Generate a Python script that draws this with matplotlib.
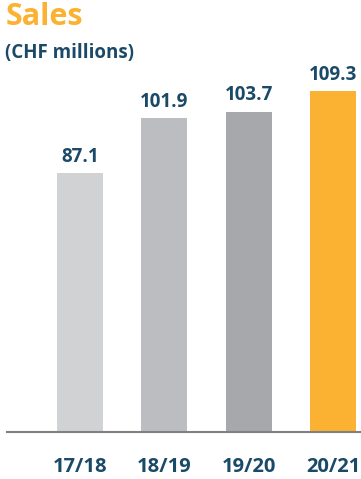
import matplotlib
matplotlib.use("Agg")
import matplotlib.pyplot as plt

years = ['17/18', '18/19', '19/20', '20/21']
sales = [87.1, 101.9, 103.7, 109.3]
bar_colors = ['#d1d2d4', '#bcbdc0', '#a7a8ab', '#fbb232']

TEXT = '#1b4a68'
ORANGE = '#fbb232'

plt.rcParams['font.family'] = ['Open Sans', 'DejaVu Sans']

fig = plt.figure(figsize=(3.61, 4.79), dpi=100)
ax = fig.add_axes([0.019, 0.098, 0.981, 0.777])

x = range(len(years))
# value axis of the original starts above zero
ax.bar(x, [v - 16.9 for v in sales], bottom=16.9, width=0.546,
       color=bar_colors, zorder=2)
for xi, v in zip(x, sales):
    ax.annotate(f'{v:.1f}', (xi, v), xytext=(0, 4.5), textcoords='offset points',
                ha='center', va='bottom', fontsize=13.5, fontweight='bold', color=TEXT)

ax.set_xlim(-0.866, 3.33)
ax.set_ylim(16.9, 117.7)
ax.set_xticks(list(x))
ax.set_xticklabels(years, fontsize=14.5, fontweight='bold', color=TEXT)
ax.tick_params(axis='x', length=0, pad=18)
ax.set_yticks([])
for s in ['top', 'right', 'left']:
    ax.spines[s].set_visible(False)
ax.spines['bottom'].set_color('#808080')
ax.spines['bottom'].set_linewidth(1.5)

fig.text(0.015, 0.995, 'Sales', fontsize=22, fontweight='bold', color=ORANGE,
         ha='left', va='top')
fig.text(0.015, 0.911, '(CHF millions)', fontsize=13.5, fontweight='bold', color=TEXT,
         ha='left', va='top')

fig.savefig('out.png', dpi=100)
